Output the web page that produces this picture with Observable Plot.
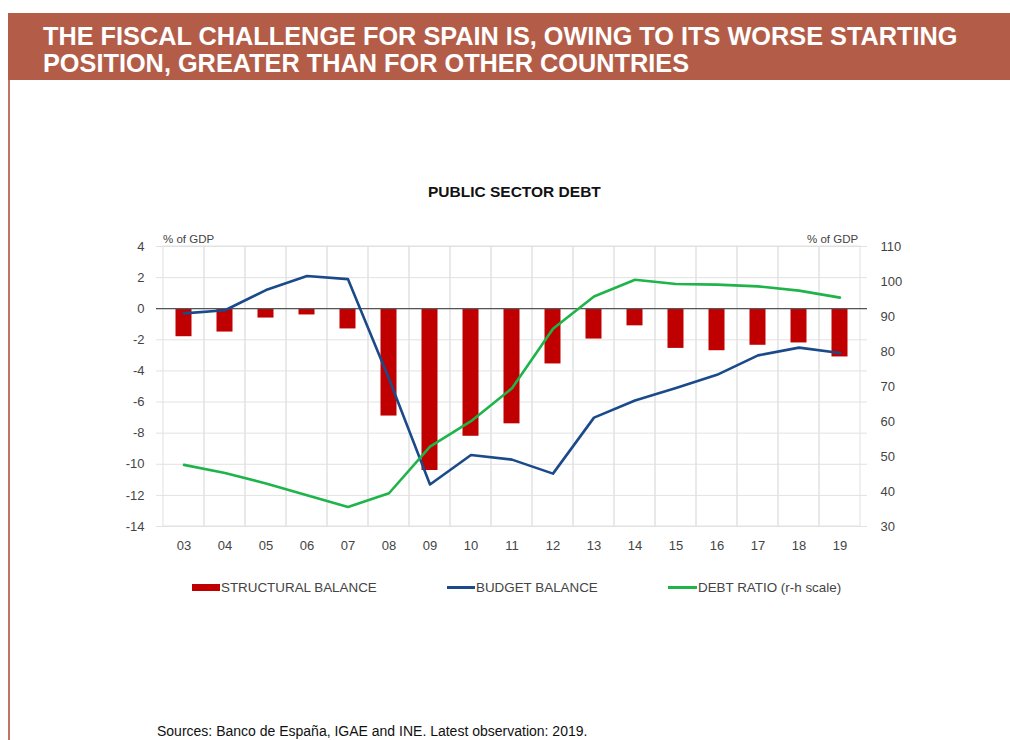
<!DOCTYPE html>
<html><head><meta charset="utf-8">
<script src="https://cdn.jsdelivr.net/npm/d3@7"></script>
<script src="https://cdn.jsdelivr.net/npm/@observablehq/plot@0.6"></script>
<style>
body{margin:0;width:1010px;height:740px;position:relative;background:#fff;font-family:"Liberation Sans",Arial,sans-serif;overflow:hidden}
#banner{position:absolute;left:8px;top:13px;width:1002px;height:67px;background:#b35d48}
#banner div{position:absolute;left:35px;top:10px;color:#fff;font-weight:bold;font-size:25.3px;line-height:27px;white-space:nowrap}
#border{position:absolute;left:8px;top:80px;width:2px;height:660px;background:#c07563}
#ctitle{position:absolute;top:183px;left:428px;font-weight:bold;font-size:15.5px;color:#111;white-space:nowrap}
.unit{position:absolute;top:233px;font-size:11.5px;color:#444;white-space:nowrap}
#chart{position:absolute;left:0;top:200px}
.leg{position:absolute;top:580px;font-size:13.4px;color:#444;white-space:nowrap;line-height:15px}
.sw{position:absolute}
#sources{position:absolute;left:157px;top:723px;font-size:14px;color:#111;white-space:nowrap}
</style>
</head><body>
<div id="banner"><div>THE FISCAL CHALLENGE FOR SPAIN IS, OWING TO ITS WORSE STARTING<br>POSITION, GREATER THAN FOR OTHER COUNTRIES</div></div>
<div id="border"></div>
<div id="ctitle">PUBLIC SECTOR DEBT</div>
<div class="unit" style="left:163px">% of GDP</div>
<div class="unit" style="left:807px">% of GDP</div>
<div id="chart"></div>
<div class="sw" style="left:192px;top:584px;width:28px;height:7px;background:#c00000"></div>
<div class="leg" style="left:221px">STRUCTURAL BALANCE</div>
<div class="sw" style="left:447px;top:586px;width:28px;height:3px;background:#1b4a8a"></div>
<div class="leg" style="left:476px">BUDGET BALANCE</div>
<div class="sw" style="left:668px;top:586px;width:29px;height:3px;background:#1fb44a"></div>
<div class="leg" style="left:698px">DEBT RATIO (r-h scale)</div>
<div id="sources">Sources: Banco de España, IGAE and INE. Latest observation: 2019.</div>
<script>
const years = ["03","04","05","06","07","08","09","10","11","12","13","14","15","16","17","18","19"];
const structuralBalance = [-1.8,-1.5,-0.6,-0.4,-1.3,-6.9,-10.4,-8.2,-7.4,-3.55,-1.95,-1.1,-2.55,-2.7,-2.35,-2.2,-3.1];
const budgetBalance = [-0.3,-0.1,1.2,2.1,1.9,-4.5,-11.3,-9.4,-9.7,-10.6,-7.0,-5.9,-5.1,-4.25,-3.0,-2.5,-2.85];
const debtRatio = [47.6,45.3,42.3,38.9,35.6,39.5,52.8,60.1,69.5,86.5,95.7,100.5,99.3,99.1,98.6,97.4,95.4];
const leftTicks = [4,2,0,-2,-4,-6,-8,-10,-12,-14];
const rightTicks = [110,100,90,80,70,60,50,40,30];

// right-hand scale (30..110) mapped onto left-hand scale (-14..4)
const toLeft = v => -14 + (v - 30) * 18 / 80;
const fromLeft = v => 30 + (v + 14) * 80 / 18;

const data = years.map((y, i) => ({year: y, structural: structuralBalance[i], budget: budgetBalance[i], debt: debtRatio[i]}));

const chart = Plot.plot({
  width: 1010, height: 360,
  marginLeft: 156, marginRight: 143, marginTop: 46, marginBottom: 34,
  style: {fontFamily: '"Liberation Sans", Arial, sans-serif', fontSize: "13px", color: "#444", background: "transparent"},
  x: {type: "band", domain: years, padding: 0},
  y: {domain: [-14, 4]},
  marks: [
    Plot.gridY(leftTicks, {stroke: "#e2e2e2", strokeOpacity: 1}),
    Plot.barY(years, {x: d => d, y1: -14, y2: 4, fill: "none", stroke: "#e2e2e2"}),
    Plot.barY(data, {x: "year", y: "structural", fill: "#c00000", insetLeft: 12.5, insetRight: 12.5}),
    Plot.ruleY([0], {stroke: "#555", strokeWidth: 1.2}),
    Plot.line(data, {x: "year", y: "budget", stroke: "#1b4a8a", strokeWidth: 2.6}),
    Plot.line(data, {x: "year", y: d => toLeft(d.debt), stroke: "#1fb44a", strokeWidth: 2.6}),
    Plot.axisY(leftTicks, {tickSize: 0, tickPadding: 12, tickFormat: d => String(d), label: null}),
    Plot.axisY(rightTicks.map(toLeft), {anchor: "right", tickSize: 0, tickPadding: 13, tickFormat: v => String(Math.round(fromLeft(v))), label: null}),
    Plot.axisX({tickSize: 0, tickPadding: 14, label: null})
  ]
});
document.getElementById("chart").appendChild(chart);
</script>
</body></html>
